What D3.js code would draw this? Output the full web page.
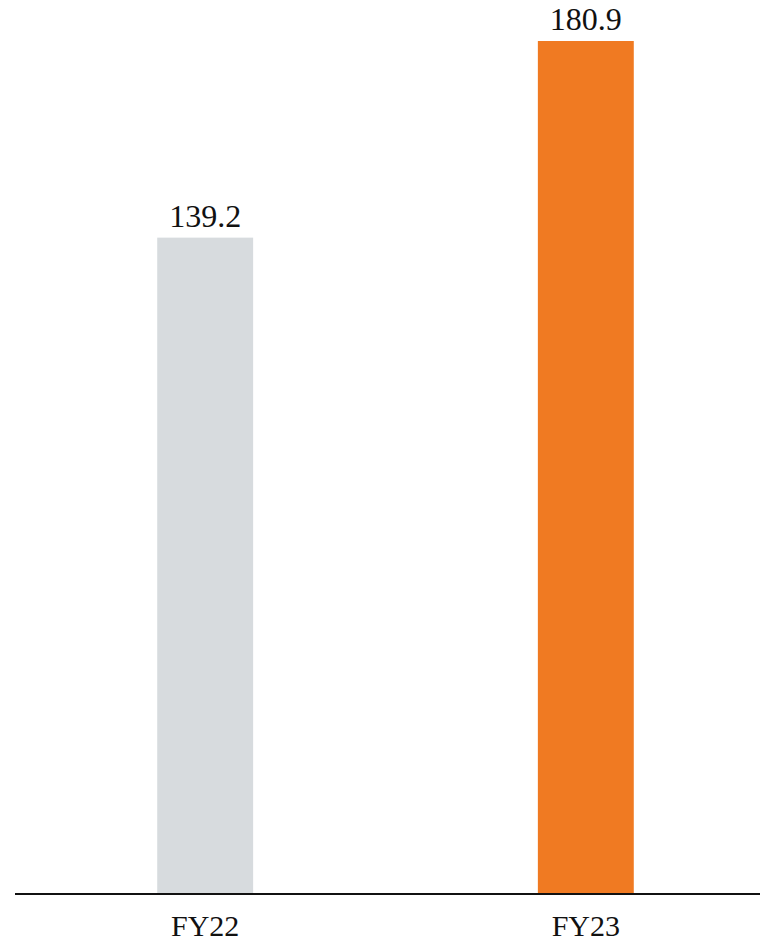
<!doctype html>
<html>
<head>
    <script src="https://d3js.org/d3.v7.min.js"></script>
    <style>
        body { margin: 0; background: #fff; }
    </style>
</head>
<body>
    <script>
        var width = 761;
        var height = 944;

        var categories = ["FY22", "FY23"];
        var values = [139.2, 180.9];
        var colors = ["#d7dbde", "#f07a22"];

        var baseY = 894;

        var xScale = d3.scaleBand()
                        .domain(categories)
                        .range([24, 767])
                        .paddingInner(0.748)
                        .paddingOuter(0.35);

        var yScale = d3.scaleLinear()
                        .domain([0, 180.9])
                        .range([baseY, 41]);

        // create svg
        var svg = d3.select("body")
                    .append("svg")
                    .attr("width", width)
                    .attr("height", height);

        // bars
        svg.selectAll("rect.bar")
           .data(values)
           .enter()
           .append("rect")
           .attr("class", "bar")
           .attr("x", function(d, i){ return xScale(categories[i]); })
           .attr("y", function(d){ return yScale(d); })
           .attr("width", xScale.bandwidth())
           .attr("height", function(d){ return baseY - yScale(d); })
           .style("fill", function(d, i){ return colors[i]; });

        // value labels
        svg.selectAll("text.value")
           .data(values)
           .enter()
           .append("text")
           .attr("class", "value")
           .attr("x", function(d, i){ return xScale(categories[i]) + xScale.bandwidth() / 2; })
           .attr("y", function(d){ return yScale(d) - 11; })
           .attr("text-anchor", "middle")
           .style("font-family", "'Liberation Serif', serif")
           .style("font-size", "32px")
           .style("fill", "#111")
           .text(function(d){ return d.toFixed(1); });

        // baseline
        svg.append("line")
           .attr("x1", 15)
           .attr("x2", 760)
           .attr("y1", baseY)
           .attr("y2", baseY)
           .style("stroke", "#111")
           .style("stroke-width", 2);

        // category labels
        svg.selectAll("text.cat")
           .data(categories)
           .enter()
           .append("text")
           .attr("class", "cat")
           .attr("x", function(d){ return xScale(d) + xScale.bandwidth() / 2; })
           .attr("y", baseY + 42)
           .attr("text-anchor", "middle")
           .style("font-family", "'Liberation Serif', serif")
           .style("font-size", "30px")
           .style("fill", "#111")
           .text(function(d){ return d; });
    </script>
</body>
</html>
